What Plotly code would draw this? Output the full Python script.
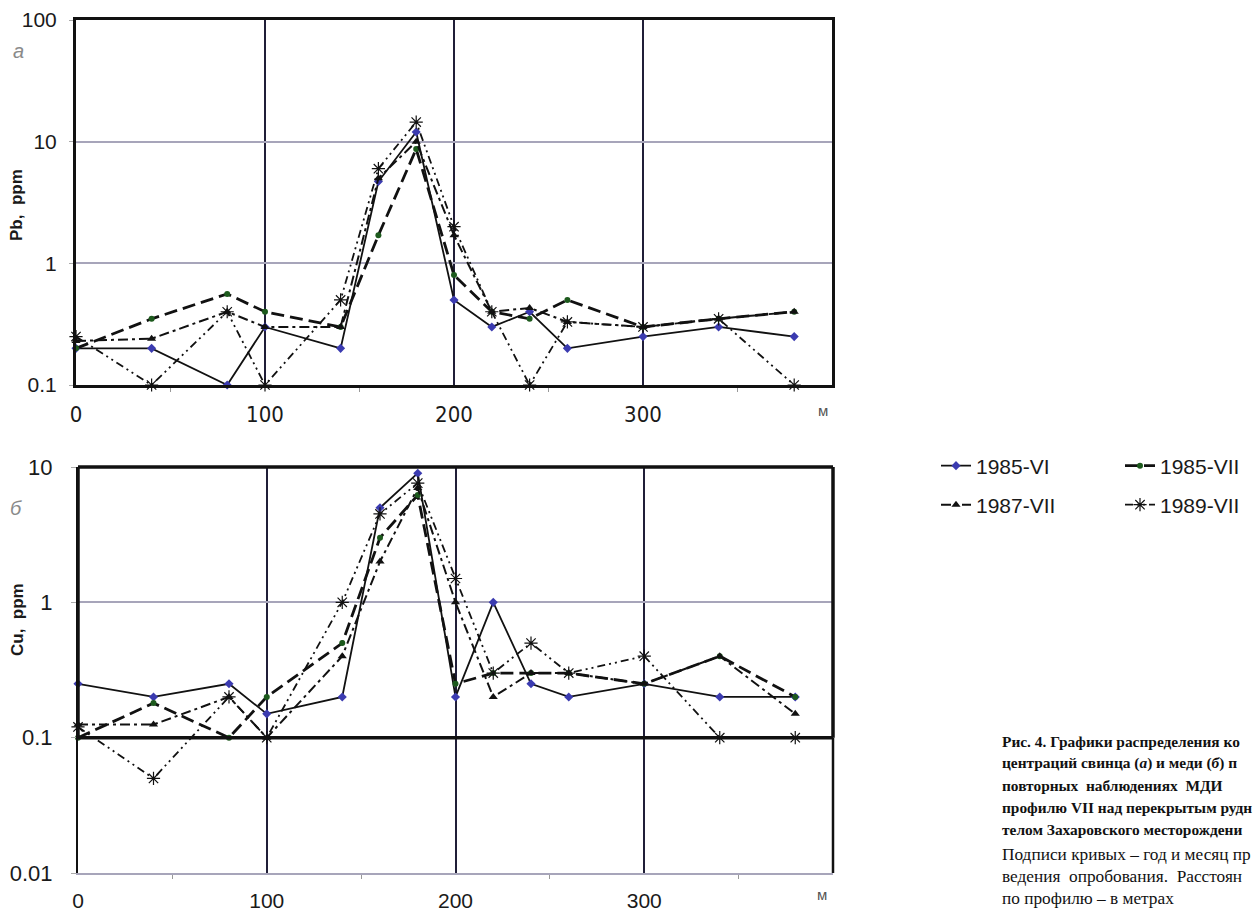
import plotly.graph_objects as go

# ---------------- data ----------------
distance_m = [0, 40, 80, 100, 140, 160, 180, 200, 220, 240, 260, 300, 340, 380]

series_names = ["1985-VI", "1985-VII", "1987-VII", "1989-VII"]

pb_1985_vi  = [0.20, 0.20, 0.10, 0.30, 0.20, 4.7, 12.0, 0.50, 0.30, 0.40, 0.20, 0.25, 0.30, 0.25]
pb_1985_vii = [0.20, 0.35, 0.56, 0.40, 0.30, 1.7, 8.7, 0.80, 0.40, 0.35, 0.50, 0.30, 0.35, 0.40]
pb_1987_vii = [0.23, 0.24, 0.40, 0.30, 0.30, 5.0, 10.0, 1.7, 0.40, 0.43, 0.33, 0.30, 0.35, 0.40]
pb_1989_vii = [0.25, 0.10, 0.40, 0.10, 0.50, 6.0, 14.5, 2.0, 0.40, 0.10, 0.33, 0.30, 0.35, 0.10]

cu_1985_vi  = [0.25, 0.20, 0.25, 0.15, 0.20, 5.0, 9.0, 0.20, 1.00, 0.25, 0.20, 0.25, 0.20, 0.20]
cu_1985_vii = [0.10, 0.18, 0.10, 0.20, 0.50, 3.0, 6.2, 0.25, 0.30, 0.30, 0.30, 0.25, 0.40, 0.20]
cu_1987_vii = [0.125, 0.125, 0.20, 0.10, 0.40, 2.0, 7.0, 1.00, 0.20, 0.30, 0.30, 0.25, 0.40, 0.15]
cu_1989_vii = [0.12, 0.05, 0.20, 0.10, 1.00, 4.5, 7.6, 1.50, 0.30, 0.50, 0.30, 0.40, 0.10, 0.10]

pb_ticks = [0.1, 1, 10, 100]
pb_ticktext = ["0.1", "1", "10", "100"]
cu_ticks = [0.01, 0.1, 1, 10]
cu_ticktext = ["0.01", "0.1", "1", "10"]
x_ticks = [0, 100, 200, 300]
x_minor = [50, 150, 250, 350]

# caption lines as far as they are visible in the picture (cut by its right edge)
caption_bold = [
    "Рис. 4. Графики распределения ко",
    "центраций свинца (<i>а</i>) и меди (<i>б</i>) п",
    "повторных  наблюдениях  МДИ",
    "профилю VII над перекрытым рудн",
    "телом Захаровского месторождени",
]
caption_plain = [
    "Подписи кривых – год и месяц пр",
    "ведения  опробования.  Расстоян",
    "по профилю – в метрах",
]

# ---------------- styles ----------------
W, H = 1255, 911
styles = [
    dict(line=dict(color="#111111", width=1.8, dash="solid"),
         marker=dict(symbol="diamond", size=7, color="#3b3bb0")),
    dict(line=dict(color="#111111", width=2.8, dash="13px,6px"),
         marker=dict(symbol="circle", size=6, color="#1d5a1d")),
    dict(line=dict(color="#111111", width=2.0, dash="10px,4px,3px,4px"),
         marker=dict(symbol="triangle-up", size=8, color="#111111")),
    dict(line=dict(color="#111111", width=1.8, dash="8px,4px,2px,4px,2px,4px"),
         marker=dict(symbol="asterisk-open", size=11, color="#111111",
                     line=dict(width=1.2, color="#111111"))),
]
legend_ids = ["legend", "legend", "legend2", "legend2"]

fig = go.Figure()
pb_data = [pb_1985_vi, pb_1985_vii, pb_1987_vii, pb_1989_vii]
cu_data = [cu_1985_vi, cu_1985_vii, cu_1987_vii, cu_1989_vii]

for name, ys, st, lg in zip(series_names, pb_data, styles, legend_ids):
    fig.add_trace(go.Scatter(x=distance_m, y=ys, name=name, mode="lines+markers",
                             line=st["line"], marker=st["marker"],
                             xaxis="x", yaxis="y", legendgroup=name,
                             showlegend=True, legend=lg, cliponaxis=False))
for name, ys, st in zip(series_names, cu_data, styles):
    fig.add_trace(go.Scatter(x=distance_m, y=ys, name=name, mode="lines+markers",
                             line=st["line"], marker=st["marker"],
                             xaxis="x2", yaxis="y2", legendgroup=name,
                             showlegend=False, cliponaxis=False))

def px_x(p):
    return p / W

def px_y(p):
    return 1 - p / H

vgrid = "#201e38"
hgrid = "#a7a5ba"
tickfont_y = dict(family="Liberation Sans, Arial, sans-serif", size=21, color="#1a1a1a")
tickfont_x_top = dict(family="Liberation Sans Narrow, Arial Narrow, DejaVu Sans Condensed, sans-serif",
                      size=22, color="#1a1a1a")
tickfont_x_bot = dict(family="Liberation Sans, Arial, sans-serif", size=21, color="#1a1a1a")

common_x = dict(range=[0, 400], tickmode="array", tickvals=x_ticks, automargin=False,
                showgrid=True, gridcolor=vgrid, gridwidth=2, zeroline=False,
                ticks="outside", ticklen=0, ticklabelstandoff=8,
                minor=dict(tickmode="array", tickvals=x_minor, ticks="outside",
                           ticklen=4, tickcolor="#999999", tickwidth=1, showgrid=False))

legend_font = dict(family="Liberation Sans, Arial, sans-serif", size=21, color="#1a1a1a")

fig.update_layout(
    width=W, height=H, autosize=False,
    margin=dict(l=0, r=0, t=0, b=0, autoexpand=False),
    paper_bgcolor="white", plot_bgcolor="white",
    font=dict(family="Liberation Sans, Arial, sans-serif", color="#1a1a1a"),
    xaxis=dict(domain=[px_x(76), px_x(832)], anchor="y",
               showline=True, linewidth=3, linecolor="#111111", mirror=True,
               tickfont=tickfont_x_top, **common_x),
    yaxis=dict(domain=[px_y(385), px_y(20)], anchor="x", type="log", range=[-1, 2],
               tickmode="array", tickvals=pb_ticks, ticktext=pb_ticktext, automargin=False,
               showgrid=True, gridcolor=hgrid, gridwidth=2, zeroline=False,
               showline=True, linewidth=3, linecolor="#111111", mirror=True,
               ticks="outside", ticklen=4, tickcolor="#aaaaaa", ticklabelstandoff=8,
               tickfont=tickfont_y),
    xaxis2=dict(domain=[px_x(78), px_x(833)], anchor="y2",
                showline=True, linewidth=2, linecolor=hgrid, mirror=False,
                tickfont=tickfont_x_bot, **common_x),
    yaxis2=dict(domain=[px_y(873), px_y(467)], anchor="x2", type="log", range=[-2, 1],
                tickmode="array", tickvals=cu_ticks, ticktext=cu_ticktext, automargin=False,
                showgrid=True, gridcolor=hgrid, gridwidth=2, zeroline=False,
                showline=True, linewidth=2, linecolor="#111111", mirror=False,
                ticks="outside", ticklen=5, tickcolor="#aaaaaa", ticklabelstandoff=14,
                tickfont=dict(family="Liberation Sans, Arial, sans-serif", size=22, color="#1a1a1a")),
    legend=dict(orientation="h", x=px_x(936), xanchor="left", y=px_y(466), yanchor="middle",
                entrywidth=139, entrywidthmode="pixels", bgcolor="rgba(0,0,0,0)",
                font=legend_font),
    legend2=dict(orientation="h", x=px_x(936), xanchor="left", y=px_y(505), yanchor="middle",
                 entrywidth=139, entrywidthmode="pixels", bgcolor="rgba(0,0,0,0)",
                 font=legend_font),
)

# frame of the lower panel
shapes = [
    dict(type="line", xref="x2 domain", yref="y2 domain", x0=0, x1=1, y0=1, y1=1,
         line=dict(color="#111111", width=3.5)),
    dict(type="line", xref="x2 domain", yref="y2 domain", x0=0, x1=1, y0=1/3, y1=1/3,
         line=dict(color="#111111", width=3.5)),
    dict(type="line", xref="x2 domain", yref="y2 domain", x0=0, x1=0, y0=1/3, y1=1,
         line=dict(color="#111111", width=3.5)),
    dict(type="line", xref="x2 domain", yref="y2 domain", x0=1, x1=1, y0=1/3, y1=1,
         line=dict(color="#111111", width=3.5)),
    dict(type="line", xref="x2 domain", yref="y2 domain", x0=1, x1=1, y0=0, y1=1/3,
         line=dict(color="#111111", width=2.5)),
]
fig.update_layout(shapes=shapes)

def label(text, x, y, size, color, angle=0, family=None, xanchor="center"):
    f = dict(size=size, color=color)
    if family:
        f["family"] = family
    return dict(text=text, x=px_x(x), y=px_y(y), xref="paper", yref="paper",
                xanchor=xanchor, yanchor="middle", textangle=angle,
                showarrow=False, font=f)

ann = [
    label("<b>Pb,  ppm</b>", 17, 205, 17, "#1a1a1a", angle=-90),
    label("<b>Cu,  ppm</b>", 17, 620, 17, "#1a1a1a", angle=-90),
    label("<i>a</i>", 18, 51, 20, "#8a8a8a"),
    label("<i>б</i>", 16, 508, 20, "#8a8a8a"),
    label("м", 823, 410, 15, "#555555"),
    label("м", 822, 894, 15, "#555555"),
]

serif = "Liberation Serif, Times New Roman, serif"
for i, line in enumerate(caption_bold):
    ann.append(label("<b>" + line + "</b>", 1000, 741 + 22 * i, 15.4, "#111111",
                     family=serif, xanchor="left"))
for i, line in enumerate(caption_plain):
    ann.append(label(line, 1000, 854 + 22 * i, 17.3, "#111111",
                     family=serif, xanchor="left"))
fig.update_layout(annotations=ann)

fig.write_html("out.html")
